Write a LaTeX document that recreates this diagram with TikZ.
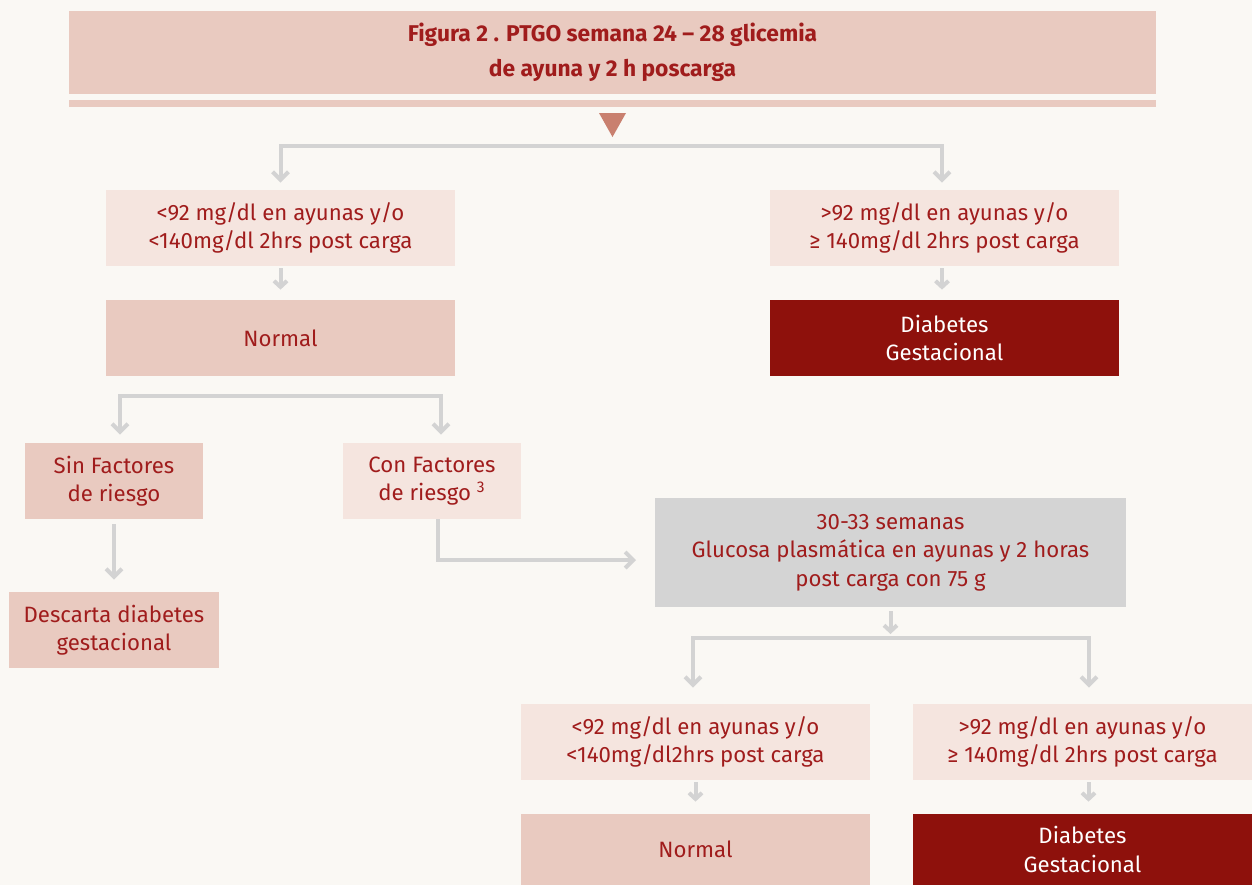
\documentclass[tikz,border=0pt]{standalone}
\usepackage{fontspec}
\setmainfont{Fira Sans}
\usetikzlibrary{arrows.meta,positioning}

\definecolor{pagebg}{HTML}{FAF8F4}
\definecolor{rosemid}{HTML}{E9CAC0}
\definecolor{roselight}{HTML}{F5E5DF}
\definecolor{wine}{HTML}{8E110C}
\definecolor{winetext}{HTML}{A01C1C}
\definecolor{boxgray}{HTML}{D4D4D4}
\definecolor{linegray}{HTML}{D3D3D3}
\definecolor{tricolor}{HTML}{C9806F}

\begin{document}
\begin{tikzpicture}[x=0.5pt,y=-0.5pt,
    box/.style={inner sep=0pt, align=center, text=winetext,
      font=\fontsize{11.1}{14.2}\selectfont},
    condbox/.style={box, fill=roselight, minimum width=174.5pt, minimum height=38pt},
    resbox/.style={box, fill=rosemid, minimum height=38pt},
    diabbox/.style={box, fill=wine, text=white, minimum width=174.5pt, minimum height=38pt},
    conn/.style={draw=linegray, line width=2pt, -{Straight Barb[length=4pt,width=8pt]}},
    shortarrow/.style={draw=linegray, line width=2pt, -{Straight Barb[length=3pt,width=6.5pt]}}]

  \fill[pagebg] (0,0) rectangle (1252,885);
  \useasboundingbox (0,0) rectangle (1252,885);

  % title and header
  \node[box, fill=rosemid, minimum width=543.5pt, minimum height=41.5pt,
        font=\fontsize{11.4}{17.5}\selectfont\bfseries] (title) at (612.5,52)
        {Figura 2 . PTGO semana 24 -- 28 glicemia\\de ayuna y 2 h poscarga};
  \fill[rosemid] (69,100) rectangle (1156,107);
  \fill[tricolor] (599,113) -- (626,113) -- (612.5,137) -- cycle;

  % first level
  \node[condbox] (condA) at (280.5,228) {<92 mg/dl en ayunas y/o\\<140mg/dl 2hrs post carga};
  \node[condbox] (condB) at (944.5,228) {>92 mg/dl en ayunas y/o\\≥ 140mg/dl 2hrs post carga};
  \node[resbox, minimum width=174.5pt] (normA) at (280.5,338) {Normal};
  \node[diabbox] (diabA) at (944.5,338) {Diabetes\\Gestacional};

  % risk factors
  \node[resbox, minimum width=89pt] (sinF) at (114,481) {Sin Factores\\de riesgo};
  \node[condbox, minimum width=89pt] (conF) at (432,481) {Con Factores\\de riesgo \textsuperscript{3}};
  \node[resbox, minimum width=105pt] (descarta) at (114,630) {Descarta diabetes\\gestacional};

  % second test
  \node[box, fill=boxgray, minimum width=235.5pt, minimum height=54.5pt] (gluc) at (890.5,552.5)
        {30-33 semanas\\Glucosa plasmática en ayunas y 2 horas\\post carga con 75 g};
  \node[condbox] (condC) at (695.5,742) {<92 mg/dl en ayunas y/o\\<140mg/dl2hrs post carga};
  \node[condbox, minimum width=169.5pt] (condD) at (1082.5,742) {>92 mg/dl en ayunas y/o\\≥ 140mg/dl 2hrs post carga};
  \node[resbox, minimum width=174.5pt, minimum height=35.5pt] (normB) at (695.5,849.5) {Normal};
  \node[diabbox, minimum width=169.5pt, minimum height=35.5pt] (diabB) at (1082.5,849.5) {Diabetes\\Gestacional};

  \coordinate (split1) at (612.5,146);
  \coordinate (split2) at (280.5,396);
  \coordinate (split3) at (890.5,638);
  \coordinate (glucin) at (636,560);

  % connectors
  \draw[conn] (split1) -| ([yshift=3.5pt]condA.north);
  \draw[conn] (split1) -| ([xshift=-1.25pt,yshift=3.5pt]condB.north);
  \draw[shortarrow] ([yshift=-1pt]condA.south) -- ([yshift=5pt]normA.north);
  \draw[shortarrow] ([xshift=-1.25pt,yshift=-1pt]condB.south) -- ([xshift=-1.25pt,yshift=5pt]diabA.north);

  \draw[conn] (split2) -| ([xshift=3pt,yshift=4pt]sinF.north);
  \draw[conn] (split2) -| ([xshift=4.5pt,yshift=4pt]conF.north);
  \draw[conn] ([yshift=-2.5pt]sinF.south) -- ([yshift=6pt]descarta.north);
  \draw[conn] ([xshift=3pt]conF.south) |- (glucin);

  \draw[shortarrow, shorten >=2pt] ([yshift=-2pt]gluc.south) -- (split3);
  \draw[conn] (split3) -| ([xshift=-1.25pt,yshift=8pt]condC.north);
  \draw[conn] (split3) -| ([xshift=3.25pt,yshift=8pt]condD.north);
  \draw[shortarrow] ([yshift=-1pt]condC.south) -- ([yshift=6pt]normB.north);
  \draw[shortarrow] ([xshift=3pt,yshift=-1pt]condD.south) -- ([xshift=3pt,yshift=6pt]diabB.north);
\end{tikzpicture}
\end{document}
